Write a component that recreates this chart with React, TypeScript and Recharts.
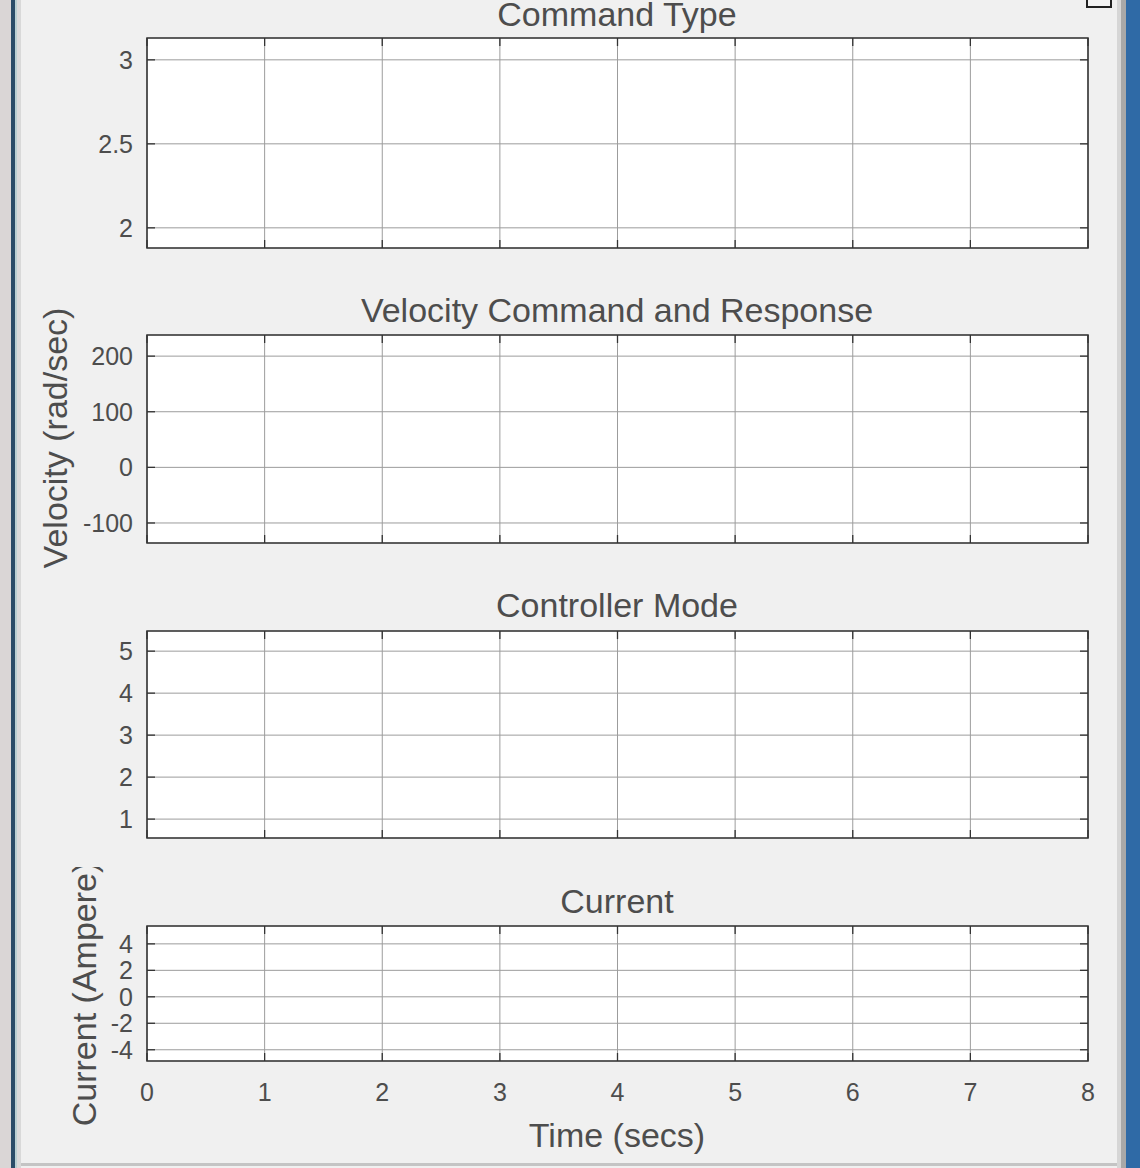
import React from 'react';
import { LineChart, Line, XAxis, YAxis, CartesianGrid, ReferenceArea } from 'recharts';

// ---- data ----
const timeTicks = [0, 1, 2, 3, 4, 5, 6, 7, 8];
const commandTypeTicks = [2, 2.5, 3];
const velocityTicks = [-100, 0, 100, 200];
const modeTicks = [1, 2, 3, 4, 5];
const currentTicks = [-4, -2, 0, 2, 4];

// the scopes are empty in the reference (no samples logged yet)
const commandType: (number | null)[] = [];
const velocityCommand: (number | null)[] = [];
const velocityResponse: (number | null)[] = [];
const controllerMode: (number | null)[] = [];
const current: (number | null)[] = [];

const titles = ['Command Type', 'Velocity Command and Response', 'Controller Mode', 'Current'];

// ---- layout ----
const W = 1140;
const H = 1168;
const PL = 147;
const PR = 1088;
const FONT = '"Liberation Sans", Arial, Helvetica, sans-serif';
const TXT = '#4d4d4d';

type PanelProps = {
  top: number;
  bottom: number;
  domain: [number, number];
  ticks: number[];
  showX: boolean;
  series: { key: string; values: (number | null)[]; color: string }[];
};

function Panel({ top, bottom, domain, ticks, showX, series }: PanelProps) {
  const mt = 10;
  const mb = 10;
  const xh = showX ? 60 : 2;
  const h = bottom - top + mt + mb + xh;
  const data = timeTicks.map((t, i) => {
    const row: any = { t };
    series.forEach((s) => {
      row[s.key] = s.values[i] ?? null;
    });
    return row;
  });
  const renderY = (p: any) => {
    const y = p.y;
    return (
      <g>
        <line x1={PL} x2={PL + 8} y1={y} y2={y} stroke="#333" strokeWidth={1.3} />
        <line x1={PR} x2={PR - 8} y1={y} y2={y} stroke="#333" strokeWidth={1.3} />
        <text x={133} y={y} textAnchor="end" dominantBaseline="central" fontSize={25} fontFamily={FONT} fill={TXT}>
          {String(p.payload.value)}
        </text>
      </g>
    );
  };
  const renderX = (p: any) => {
    const x = p.x;
    return (
      <g>
        <line x1={x} x2={x} y1={bottom - top + mt} y2={bottom - top + mt - 8} stroke="#333" strokeWidth={1.3} />
        <line x1={x} x2={x} y1={mt} y2={mt + 8} stroke="#333" strokeWidth={1.3} />
        {showX && (
          <text x={x} y={bottom - top + mt + 40} textAnchor="middle" fontSize={25} fontFamily={FONT} fill={TXT}>
            {String(p.payload.value)}
          </text>
        )}
      </g>
    );
  };
  return (
    <div style={{ position: 'absolute', left: 0, top: top - mt }}>
      <LineChart width={W} height={h} data={data} margin={{ top: mt, right: W - PR, bottom: mb, left: 0 }}>
        <CartesianGrid stroke="#9c9c9c" strokeWidth={1} fill="#ffffff" />
        <XAxis
          dataKey="t"
          type="number"
          domain={[0, 8]}
          ticks={timeTicks}
          interval={0}
          height={xh}
          axisLine={false}
          tickLine={false}
          tick={renderX}
          allowDataOverflow
        />
        <YAxis
          type="number"
          domain={domain}
          ticks={ticks}
          interval={0}
          width={PL}
          axisLine={false}
          tickLine={false}
          tick={renderY}
          allowDataOverflow
        />
        {series.map((s) => (
          <Line key={s.key} dataKey={s.key} stroke={s.color} dot={false} isAnimationActive={false} connectNulls={false} />
        ))}
        <ReferenceArea
          x1={0}
          x2={8}
          y1={domain[0]}
          y2={domain[1]}
          fill="none"
          stroke="#3a3a3a"
          strokeWidth={1.6}
          ifOverflow="visible"
        />
      </LineChart>
    </div>
  );
}

export default function App() {
  return (
    <div style={{ position: 'absolute', left: 0, top: 0, width: W, height: H, background: '#f0f0f0', overflow: 'hidden', fontFamily: FONT }}>
      {/* window frame */}
      <div style={{ position: 'absolute', left: 0, top: 0, width: 11, height: H, background: '#dad6d6' }} />
      <div style={{ position: 'absolute', left: 11, top: 0, width: 4, height: H, background: '#2a4c68' }} />
      <div style={{ position: 'absolute', left: 15, top: 0, width: 2, height: H, background: '#b9cfd2' }} />
      <div style={{ position: 'absolute', left: 17, top: 0, width: 4, height: H, background: '#d9d9d9' }} />
      <div style={{ position: 'absolute', left: 1117, top: 0, width: 4, height: H, background: '#d6d6d6' }} />
      <div style={{ position: 'absolute', left: 1121, top: 0, width: 5, height: H, background: '#a8a8a8' }} />
      <div style={{ position: 'absolute', left: 1126, top: 0, width: 14, height: H, background: '#2f6aa6' }} />
      <div style={{ position: 'absolute', left: 21, top: 1163, width: 1096, height: 3, background: '#c4c4c4' }} />
      <div style={{ position: 'absolute', left: 1086, top: -4, width: 26, height: 12, border: '2px solid #222', boxSizing: 'border-box', background: '#f4f4f4' }} />

      <Panel top={38} bottom={248} domain={[1.88, 3.13]} ticks={commandTypeTicks} showX={false}
        series={[{ key: 'cmd', values: commandType, color: '#0072bd' }]} />
      <Panel top={335} bottom={543} domain={[-136, 238]} ticks={velocityTicks} showX={false}
        series={[
          { key: 'vc', values: velocityCommand, color: '#0072bd' },
          { key: 'vr', values: velocityResponse, color: '#d95319' },
        ]} />
      <Panel top={631} bottom={838} domain={[0.55, 5.48]} ticks={modeTicks} showX={false}
        series={[{ key: 'mode', values: controllerMode, color: '#0072bd' }]} />
      <Panel top={926} bottom={1061} domain={[-4.85, 5.35]} ticks={currentTicks} showX={true}
        series={[{ key: 'cur', values: current, color: '#0072bd' }]} />

      <svg width={W} height={H} style={{ position: 'absolute', left: 0, top: 0, pointerEvents: 'none' }}>
        <defs>
          <clipPath id="curClip">
            <rect x={0} y={867} width={200} height={300} />
          </clipPath>
        </defs>
        <text x={617} y={26} textAnchor="middle" fontSize={34} fontFamily={FONT} fill={TXT}>{titles[0]}</text>
        <text x={617} y={322} textAnchor="middle" fontSize={34} fontFamily={FONT} fill={TXT}>{titles[1]}</text>
        <text x={617} y={617} textAnchor="middle" fontSize={34} fontFamily={FONT} fill={TXT}>{titles[2]}</text>
        <text x={617} y={913} textAnchor="middle" fontSize={34} fontFamily={FONT} fill={TXT}>{titles[3]}</text>
        <text x={617} y={1147} textAnchor="middle" fontSize={34} fontFamily={FONT} fill={TXT}>Time (secs)</text>
        <text x={55} y={438} transform="rotate(-90 55 438)" textAnchor="middle" dominantBaseline="central" fontSize={34} fontFamily={FONT} fill={TXT}>Velocity (rad/sec)</text>
        <g clipPath="url(#curClip)">
          <text x={84} y={994} transform="rotate(-90 84 994)" textAnchor="middle" dominantBaseline="central" fontSize={34} fontFamily={FONT} fill={TXT}>Current (Ampere)</text>
        </g>
      </svg>
    </div>
  );
}
